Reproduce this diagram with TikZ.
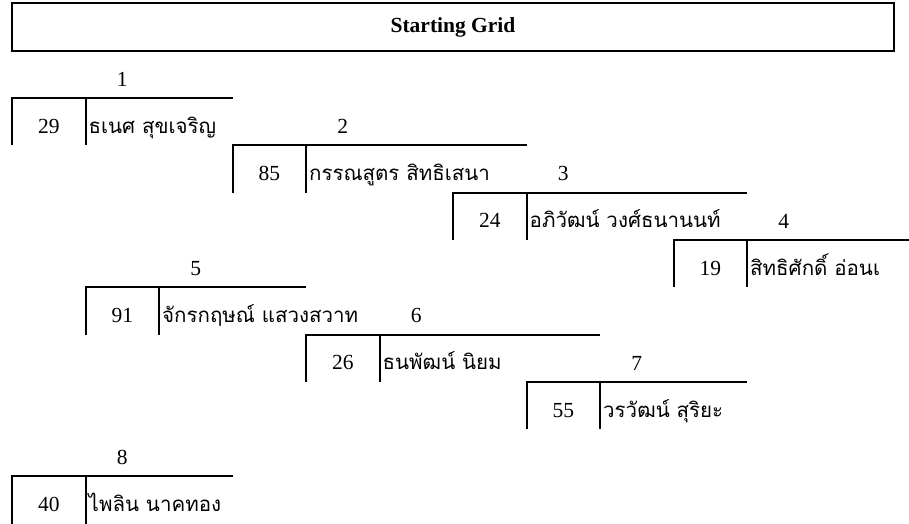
\documentclass[tikz,border=0pt]{standalone}
\usepackage{fontspec}
\setmainfont{Liberation Serif}
\newfontfamily\thaifont[Script=Thai]{Loma}
\tikzset{
  cellline/.style={line width=2pt},
  titlebox/.style={draw, line width=2.4pt, minimum width=882pt, minimum height=48pt, inner sep=0pt, font=\fontsize{21.5}{25}\selectfont\bfseries},
  numtext/.style={anchor=base, inner sep=0pt, font=\fontsize{21.5}{25}\selectfont},
  labeltext/.style={anchor=base, inner sep=0pt, font=\fontsize{21.5}{25}\selectfont},
  nametext/.style={anchor=base west, inner sep=0pt, font=\thaifont\fontsize{20.5}{24}\selectfont}
}
\newcommand\gslot[7]{%
  \pgfmathsetmacro\gsL{#2}%
  \pgfmathsetmacro\gsD{#2+73.5}%
  \pgfmathsetmacro\gsR{#2+73.5+73.5*#3}%
  \pgfmathsetmacro\gsT{#4}%
  \pgfmathsetmacro\gsB{#4+47.3}%
  \coordinate (tl#1) at (\gsL,\gsT);
  \coordinate (bl#1) at (\gsL,\gsB);
  \coordinate (td#1) at (\gsD,\gsT);
  \coordinate (bd#1) at (\gsD,\gsB);
  \coordinate (tr#1) at (\gsR,\gsT);
  \draw[cellline] (bl#1) -- (tl#1) -- (tr#1);
  \draw[cellline] (td#1) -- (bd#1);
  \node[numtext] (num#1) at ({(\gsL+\gsD)/2},\gsT+35.3) {#6};
  \node[nametext] (name#1) at (\gsD+3,\gsT+35.3) {#7};
  \node[labeltext] (lab#1) at (\gsL+110.25,\gsT-11.7) {#5};
}
\begin{document}
\begin{tikzpicture}[x=1pt,y=-1pt]
\useasboundingbox (0,0) rectangle (909,524);
\clip (0,0) rectangle (909,524);
\node[titlebox] (title) at (453,27) {Starting Grid};
\gslot{1}{12}{2}{98}{1}{29}{ธเนศ สุขเจริญ}
\gslot{2}{232.5}{3}{145.3}{2}{85}{กรรณสูตร สิทธิเสนา}
\gslot{3}{453}{3}{192.6}{3}{24}{อภิวัฒน์ วงศ์ธนานนท์}
\gslot{4}{673.5}{3}{240}{4}{19}{สิทธิศักดิ์ อ่อนเ}
\gslot{5}{85.5}{2}{287.2}{5}{91}{จักรกฤษณ์ แสวงสวาท}
\gslot{6}{306}{3}{334.5}{6}{26}{ธนพัฒน์ นิยม}
\gslot{7}{526.5}{2}{381.8}{7}{55}{วรวัฒน์ สุริยะ}
\gslot{8}{12}{2}{476.4}{8}{40}{ไพลิน นาคทอง}
\end{tikzpicture}
\end{document}
